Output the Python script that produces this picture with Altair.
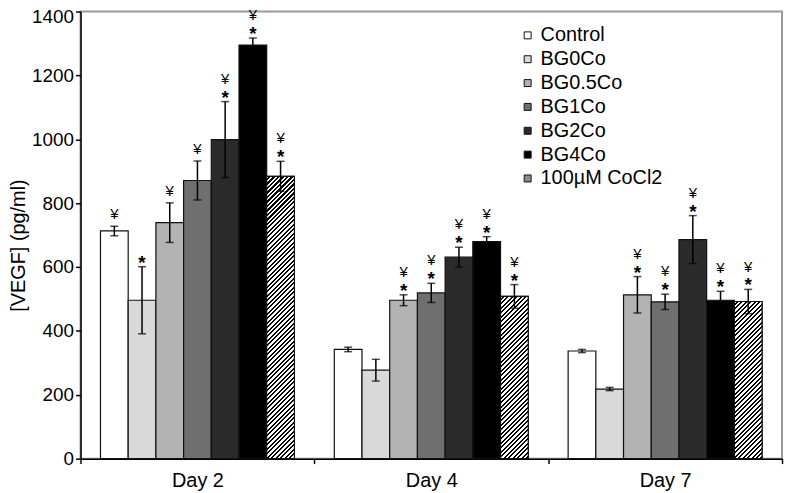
import math
import altair as alt
import pandas as pd

days = ["Day 2", "Day 4", "Day 7"]
groups = ["Control", "BG0Co", "BG0.5Co", "BG1Co", "BG2Co", "BG4Co", "100µM CoCl2"]

means_day2 = [713, 496, 739, 871, 999, 1295, 884]
err_day2 = [15, 105, 62, 61, 119, 22, 47]
means_day4 = [342, 277, 496, 519, 631, 680, 508]
err_day4 = [7, 34, 17, 30, 31, 15, 37]
means_day7 = [337, 218, 513, 491, 686, 496, 492]
err_day7 = [5, 5, 57, 24, 75, 28, 38]

sig_day2 = ["¥", "*", "¥", "¥", "¥*", "¥*", "¥*"]
sig_day4 = ["", "", "¥*", "¥*", "¥*", "¥*", "¥*"]
sig_day7 = ["", "", "¥*", "¥*", "¥*", "¥*", "¥*"]

colors = ["#ffffff", "#d9d9d9", "#b3b3b3", "#6f6f6f", "#2b2b2b", "#000000", "#8c8c8c"]

rows = []
for d, ms, es, ss in zip(days, [means_day2, means_day4, means_day7],
                         [err_day2, err_day4, err_day7],
                         [sig_day2, sig_day4, sig_day7]):
    for g, m, e, s in zip(groups, ms, es, ss):
        rows.append(dict(Day=d, Group=g, mean=m, lo=m - e, hi=m + e,
                         yen=("¥" in s), star=("*" in s)))
df = pd.DataFrame(rows)

W, H = 706, 450
YMAX = 1400
PO = 0.72
bar_w = (W / 3) / (7 + 2 * PO)

FONT = "Liberation Sans"
TITLE = "[VEGF] (pg/ml)"

x_enc = alt.X("Day:N", sort=days,
              scale=alt.Scale(paddingInner=0, paddingOuter=0),
              axis=alt.Axis(title=None, labelAngle=0, tickBand="extent", tickSize=5,
                            labelPadding=7, labelFontSize=20, domainWidth=1.5,
                            tickWidth=1.5))
xo_enc = alt.XOffset("Group:N", sort=groups,
                     scale=alt.Scale(domain=groups, paddingInner=0, paddingOuter=PO))
y_axis = alt.Axis(values=list(range(0, 1401, 200)), format="d", tickSize=5, labelFontSize=19,
                  titleFontSize=20, titleFontWeight="normal",
                  titleX=-52, titleY=235,
                  labelOffset={"condition": {"test": "datum.value == 1400", "value": 5},
                               "value": 0},
                  domainWidth=1.5, tickWidth=1.5, labelPadding=2)
y_scale = alt.Scale(domain=[0, YMAX], nice=False)


def yq(field):
    return alt.Y(f"{field}:Q", scale=y_scale, axis=y_axis, title=TITLE)


bars = alt.Chart(df).mark_bar(stroke="#111111", strokeWidth=1.2).encode(
    x=x_enc, xOffset=xo_enc, y=yq("mean"),
    color=alt.Color("Group:N", sort=groups,
                    scale=alt.Scale(domain=groups, range=colors),
                    legend=alt.Legend(title=None, orient="none", legendX=440, legendY=14,
                                      symbolType="square", symbolSize=49,
                                      symbolStrokeColor="#111111", symbolStrokeWidth=1,
                                      labelFontSize=20, labelFont=FONT, labelColor="black",
                                      labelOffset=3, rowPadding=4, padding=0)),
)


def hatch(value, period=3.2, frac=0.5):
    w = bar_w
    h = value * H / YMAX
    k = (w + h) / (w * w + h * h)
    L = (w + h) / math.sqrt(2)
    n = int(L / period) + 1
    stops = []
    for i in range(n):
        o0 = min(1, i * period / L)
        o1 = min(1, (i + 1 - frac) * period / L)
        o2 = min(1, (i + 1) * period / L)
        stops += [alt.GradientStop(offset=o0, color="#ffffff"),
                  alt.GradientStop(offset=o1, color="#ffffff"),
                  alt.GradientStop(offset=o1, color="#000000"),
                  alt.GradientStop(offset=o2, color="#000000")]
    return alt.Gradient(gradient="linear", stops=stops, x1=0, y1=0, x2=k * w, y2=k * h)


cocl2 = groups[6]
hatch_layers = []
for d, ms in zip(days, [means_day2, means_day4, means_day7]):
    hatch_layers.append(
        alt.Chart(df).transform_filter(
            f"datum.Day == '{d}' && datum.Group == '{cocl2}'"
        ).mark_bar(fill=hatch(ms[6]), stroke="#111111", strokeWidth=1.2).encode(
            x=x_enc, xOffset=xo_enc, y=yq("mean"))
    )

err = alt.Chart(df).mark_rule(color="black", strokeWidth=1.5).encode(
    x=x_enc, xOffset=xo_enc, y=yq("lo"), y2="hi:Q")
cap_hi = alt.Chart(df).mark_tick(orient="horizontal", size=8, thickness=1.5,
                                 color="black").encode(x=x_enc, xOffset=xo_enc, y=yq("hi"))
cap_lo = alt.Chart(df).mark_tick(orient="horizontal", size=8, thickness=1.5,
                                 color="black").encode(x=x_enc, xOffset=xo_enc, y=yq("lo"))

star_txt = alt.Chart(df).transform_filter("datum.star").mark_text(
    text="*", baseline="alphabetic", fontSize=19, font=FONT, fontWeight="bold",
    color="black", dy=2).encode(x=x_enc, xOffset=xo_enc, y=yq("hi"))
yen_hi = alt.Chart(df).transform_filter("datum.yen && datum.star").mark_text(
    text="¥", baseline="alphabetic", fontSize=15, font=FONT,
    color="black", dy=-18).encode(x=x_enc, xOffset=xo_enc, y=yq("hi"))
yen_lo = alt.Chart(df).transform_filter("datum.yen && !datum.star").mark_text(
    text="¥", baseline="alphabetic", fontSize=15, font=FONT,
    color="black", dy=-7).encode(x=x_enc, xOffset=xo_enc, y=yq("hi"))

chart = alt.layer(bars, *hatch_layers, err, cap_hi, cap_lo, star_txt, yen_hi, yen_lo).properties(
    width=W, height=H,
    autosize=alt.AutoSizeParams(type="none"),
    padding={"left": 73, "top": 2, "right": 2, "bottom": 32},
).configure_view(stroke="#999999", strokeWidth=2).configure_axis(
    domainColor="black", tickColor="black", labelColor="black", titleColor="black",
    labelFont=FONT, titleFont=FONT, grid=False)

chart.save("out.html", embed_options={"renderer": "svg", "actions": False})
